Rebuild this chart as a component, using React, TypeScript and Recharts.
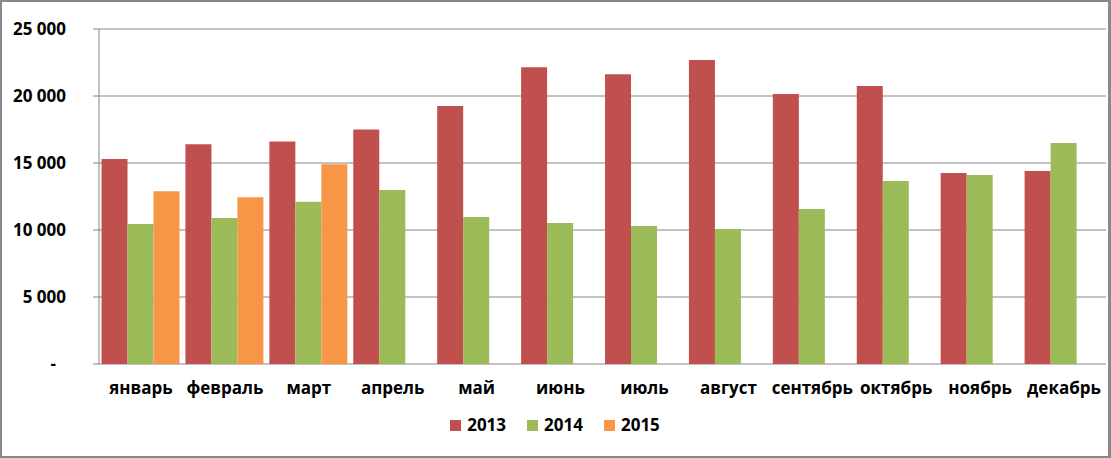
import React from "react";
import { BarChart, Bar, XAxis, YAxis, CartesianGrid, Legend } from "recharts";

const months = ["январь", "февраль", "март", "апрель", "май", "июнь", "июль", "август", "сентябрь", "октябрь", "ноябрь", "декабрь"];
const s2013 = [15300, 16400, 16600, 17500, 19250, 22150, 21630, 22680, 20140, 20740, 14250, 14400];
const s2014 = [10450, 10900, 12100, 12980, 10970, 10520, 10300, 10070, 11560, 13650, 14100, 16490];
const s2015: (number | null)[] = [12900, 12450, 14900, null, null, null, null, null, null, null, null, null];
const yTicks = [0, 5000, 10000, 15000, 20000, 25000];
const boundaryTicks = [0, 1, 2, 3, 4, 5, 6, 7, 8, 9, 10, 11, 12];

const data = months.map((m, i) => ({ month: m, y2013: s2013[i], y2014: s2014[i], y2015: s2015[i] }));

const FONT = "'Open Sans', sans-serif";
const GRAY = "#868686";

const fmt = (v: number) => (v === 0 ? "-" : v.toLocaleString("en-US").replace(/,/g, " "));

const YTick = (props: any) => {
  const { x, y, payload } = props;
  const v = payload.value;
  return (
    <text x={v === 0 ? x - 10 : x} y={y} dy="0.355em" textAnchor="end" fontFamily={FONT} fontWeight={700} fontSize={17} fill="#000">
      {fmt(v)}
    </text>
  );
};

const XTick = (props: any) => {
  const { x, y, payload } = props;
  return (
    <text x={x} y={y} dy="0.71em" textAnchor="middle" fontFamily={FONT} fontWeight={700} fontSize={17} fill="#000">
      {payload.value}
    </text>
  );
};

const EmptyTick = () => <g />;

const LegendContent = (props: any) => {
  const { payload } = props;
  return (
    <div style={{ display: "flex", justifyContent: "center", alignItems: "center", height: 30, paddingLeft: 4 }}>
      {(payload || []).map((p: any, i: number) => (
        <div key={i} style={{ display: "flex", alignItems: "center", marginLeft: i === 0 ? 0 : 21 }}>
          <span style={{ display: "inline-block", width: 11, height: 11, background: p.color, marginRight: 6 }} />
          <span style={{ fontFamily: FONT, fontWeight: 700, fontSize: 17, color: "#000", lineHeight: "20px" }}>{p.value}</span>
        </div>
      ))}
    </div>
  );
};

export default function App() {
  return (
    <div style={{ position: "absolute", left: 0, top: 0, width: 1111, height: 458, background: "#fff" }}>
      <BarChart
        width={1111}
        height={458}
        data={data}
        margin={{ top: 29, right: 5, bottom: 18, left: 0 }}
        barCategoryGap="3%"
        barGap={0}
      >
        <CartesianGrid horizontal vertical={false} stroke={GRAY} strokeWidth={1} />
        <XAxis
          xAxisId="b"
          type="number"
          dataKey="none"
          domain={[0, 12]}
          ticks={boundaryTicks}
          interval={0}
          height={0}
          axisLine={{ stroke: GRAY }}
          tickLine={{ stroke: GRAY }}
          tickSize={6}
          tick={EmptyTick}
          allowDataOverflow
        />
        <XAxis
          dataKey="month"
          height={46}
          axisLine={false}
          tickLine={false}
          tickSize={6}
          tickMargin={12}
          tick={XTick}
          interval={0}
        />
        <YAxis
          width={99}
          domain={[0, 25000]}
          ticks={yTicks}
          interval={0}
          axisLine={{ stroke: GRAY }}
          tickLine={{ stroke: GRAY }}
          tickSize={6}
          tickMargin={27}
          tick={YTick}
        />
        <Legend verticalAlign="bottom" wrapperStyle={{ height: 30 }} content={LegendContent} />
        <Bar dataKey="y2013" name="2013" fill="#C0504D" isAnimationActive={false} />
        <Bar dataKey="y2014" name="2014" fill="#9BBB59" isAnimationActive={false} />
        <Bar dataKey="y2015" name="2015" fill="#F79646" isAnimationActive={false} />
      </BarChart>
      <div style={{ position: "absolute", left: 0, top: 0, width: 1111, height: 458, boxSizing: "border-box", borderTop: "2px solid #898989", borderLeft: "2px solid #898989", borderBottom: "2px solid #898989", borderRight: "3px solid #898989", pointerEvents: "none" }} />
    </div>
  );
}
